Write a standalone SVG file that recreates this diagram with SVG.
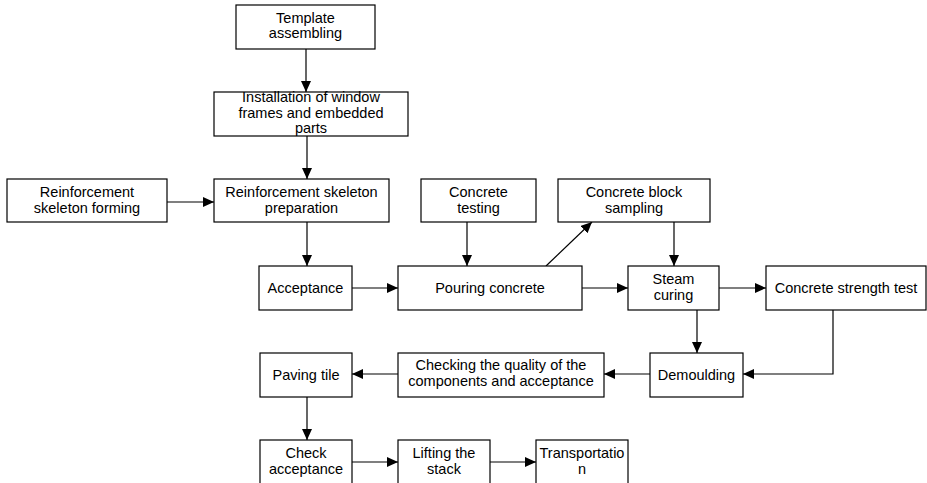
<svg xmlns="http://www.w3.org/2000/svg" width="927" height="483" viewBox="0 0 927 483">
<style>
rect{fill:#fff;stroke:#000;stroke-width:1.2}
text{font-family:"Liberation Sans",Arial,sans-serif;font-size:14.5px;fill:#000;text-anchor:middle}
.c line,.c polyline{stroke:#000;stroke-width:1.2;fill:none}
</style>
<defs>
<marker id="a" viewBox="0 0 11 10" refX="11" refY="5" markerWidth="11" markerHeight="10" markerUnits="userSpaceOnUse" orient="auto">
<path d="M0,0 L11,5 L0,10 Z" fill="#000"/>
</marker>
</defs>
<rect x="0" y="0" width="927" height="483" style="fill:#fff;stroke:none"/>
<g class="c">
<line x1="306" y1="49" x2="306" y2="92" marker-end="url(#a)"/>
<line x1="307" y1="136" x2="307" y2="179" marker-end="url(#a)"/>
<line x1="167" y1="202" x2="214" y2="202" marker-end="url(#a)"/>
<line x1="307" y1="222" x2="307" y2="266" marker-end="url(#a)"/>
<line x1="467" y1="222" x2="467" y2="266" marker-end="url(#a)"/>
<line x1="546" y1="266" x2="592" y2="222" marker-end="url(#a)"/>
<line x1="674" y1="222" x2="674" y2="266" marker-end="url(#a)"/>
<line x1="352" y1="288" x2="398" y2="288" marker-end="url(#a)"/>
<line x1="582" y1="288" x2="628" y2="288" marker-end="url(#a)"/>
<line x1="719" y1="288" x2="766" y2="288" marker-end="url(#a)"/>
<line x1="697" y1="310" x2="697" y2="353" marker-end="url(#a)"/>
<polyline points="833,310 833,374 743,374" marker-end="url(#a)"/>
<line x1="650" y1="374" x2="604" y2="374" marker-end="url(#a)"/>
<line x1="398" y1="374" x2="352" y2="374" marker-end="url(#a)"/>
<line x1="307" y1="397" x2="307" y2="440" marker-end="url(#a)"/>
<line x1="352" y1="462" x2="398" y2="462" marker-end="url(#a)"/>
<line x1="490" y1="462" x2="536" y2="462" marker-end="url(#a)"/>
</g>
<g id="n1"><rect x="236" y="5" width="139" height="44"/><text x="305.5" y="22.7">Template</text><text x="305.5" y="38">assembling</text></g>
<g id="n2"><rect x="214" y="92" width="194" height="44"/><text x="311" y="101.5">Installation of window</text><text x="311" y="117.5">frames and embedded</text><text x="311" y="133">parts</text></g>
<g id="n3"><rect x="7" y="179" width="160" height="43"/><text x="87" y="196.5">Reinforcement</text><text x="87" y="212.5">skeleton forming</text></g>
<g id="n4"><rect x="214" y="179" width="175" height="43"/><text x="301.5" y="196.5">Reinforcement skeleton</text><text x="301.5" y="212.5">preparation</text></g>
<g id="n5"><rect x="421" y="179" width="115" height="43"/><text x="478.5" y="196.5">Concrete</text><text x="478.5" y="212.5">testing</text></g>
<g id="n6"><rect x="558" y="179" width="152" height="43"/><text x="634" y="196.5">Concrete block</text><text x="634" y="212.5">sampling</text></g>
<g id="n7"><rect x="259" y="266" width="93" height="44"/><text x="305.5" y="293">Acceptance</text></g>
<g id="n8"><rect x="398" y="266" width="184" height="44"/><text x="490" y="293">Pouring concrete</text></g>
<g id="n9"><rect x="628" y="266" width="91" height="44"/><text x="673.5" y="283.5">Steam</text><text x="673.5" y="299.5">curing</text></g>
<g id="n10"><rect x="766" y="266" width="160" height="44"/><text x="846" y="293">Concrete strength test</text></g>
<g id="n11"><rect x="650" y="353" width="93" height="44"/><text x="696.5" y="380">Demoulding</text></g>
<g id="n12"><rect x="398" y="353" width="206" height="44"/><text x="501" y="370">Checking the quality of the</text><text x="501" y="386">components and acceptance</text></g>
<g id="n13"><rect x="260" y="353" width="92" height="44"/><text x="306" y="380">Paving tile</text></g>
<g id="n14"><rect x="260" y="440" width="92" height="50"/><text x="306" y="457.5">Check</text><text x="306" y="473.5">acceptance</text></g>
<g id="n15"><rect x="398" y="440" width="92" height="50"/><text x="444" y="457.5">Lifting the</text><text x="444" y="473.5">stack</text></g>
<g id="n16"><rect x="536" y="440" width="92" height="50"/><text x="582" y="457.5">Transportatio</text><text x="582" y="473.5">n</text></g>
</svg>
